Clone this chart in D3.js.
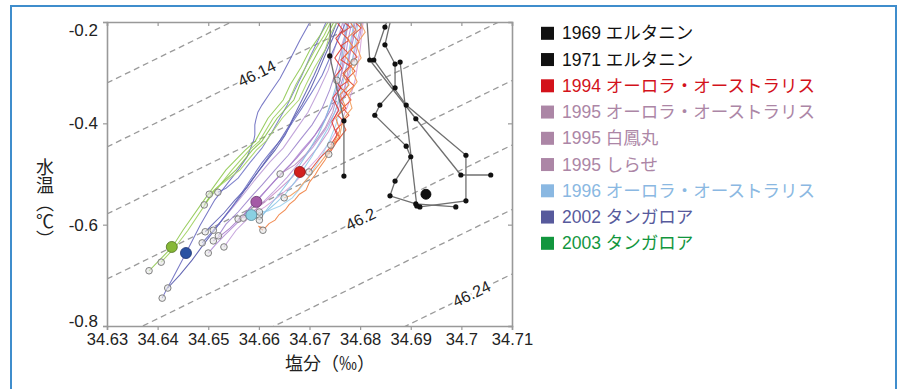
<!DOCTYPE html>
<html>
<head>
<meta charset="utf-8">
<script src="https://cdn.jsdelivr.net/npm/d3@7"></script>
<style>
  body { margin: 0; background: #fff; }
  svg { display: block; font-family: "Liberation Sans", Arial, "Noto Sans CJK JP", sans-serif; }
</style>
</head>
<body>
<svg id="chart" width="902" height="389"></svg>
<script>
// ---- data (salinity ‰, potential temperature ℃) ----
const xTicks = [34.63, 34.64, 34.65, 34.66, 34.67, 34.68, 34.69, 34.70, 34.71];
const xTickLabels = ['34.63', '34.64', '34.65', '34.66', '34.67', '34.68', '34.69', '34.7', '34.71'];
const yTicks = [-0.8, -0.6, -0.4, -0.2];
const yTickLabels = ['-0.8', '-0.6', '-0.4', '-0.2'];

// isopycnals: temperature at S=34.63 and at S=34.71
const isoLevels = [46.12, 46.14, 46.16, 46.18, 46.20, 46.22, 46.24];
const isoTempLeft = [-0.3204, -0.4467, -0.5790, -0.7073, -0.8346, -0.9620, -1.0893];
const isoTempRight = [0.0714, -0.0549, -0.1872, -0.3155, -0.4428, -0.5701, -0.6974];
const isoLabels = ['46.14', '46.2', '46.24'];
const isoLabelSalinity = [34.6596, 34.6801, 34.7020];

const legendNames = ['1969 エルタニン', '1971 エルタニン', '1994 オーロラ・オーストラリス',
  '1995 オーロラ・オーストラリス', '1995 白鳳丸', '1995 しらせ',
  '1996 オーロラ・オーストラリス', '2002 タンガロア', '2003 タンガロア'];

// bottle stations (Eltanin)
const eltanin1969 = [
  [[34.6742,-0.176],[34.6740,-0.267],[34.6768,-0.395],[34.6768,-0.504]],
  [[34.6812,-0.176],[34.6819,-0.275],[34.6910,-0.391],[34.6999,-0.502],[34.7058,-0.502]]
];
const eltanin1971 = [
  [[34.6861,-0.176],[34.6849,-0.210],[34.6827,-0.275],[34.6891,-0.364],[34.7009,-0.463],[34.7009,-0.553],[34.6918,-0.565]],
  [[34.6865,-0.176],[34.6849,-0.245],[34.6869,-0.283],[34.6869,-0.330],[34.6839,-0.364],[34.6829,-0.384],[34.6891,-0.445],[34.6900,-0.466],[34.6869,-0.514],[34.6859,-0.543],[34.6910,-0.559],[34.6989,-0.565]],
  [[34.6879,-0.279],[34.6912,-0.563]]
];

// CTD profiles
const aurora1994 = [
  [[34.6776,-0.176],[34.6768,-0.200],[34.6780,-0.210],[34.6764,-0.222],[34.6778,-0.236],[34.6762,-0.247],[34.6776,-0.261],[34.6762,-0.275],[34.6780,-0.287],[34.6766,-0.301],[34.6778,-0.315],[34.6760,-0.328],[34.6774,-0.342],[34.6760,-0.356],[34.6772,-0.370],[34.6756,-0.384],[34.6768,-0.397],[34.6752,-0.413],[34.6760,-0.429],[34.6740,-0.449],[34.6721,-0.468],[34.6699,-0.496]],
  [[34.6796,-0.176],[34.6790,-0.200],[34.6802,-0.212],[34.6786,-0.226],[34.6798,-0.240],[34.6782,-0.255],[34.6794,-0.269],[34.6778,-0.283],[34.6790,-0.297],[34.6774,-0.313],[34.6788,-0.326],[34.6772,-0.340],[34.6782,-0.354],[34.6766,-0.370],[34.6778,-0.384],[34.6764,-0.397],[34.6772,-0.413],[34.6756,-0.433],[34.6746,-0.449],[34.6738,-0.461]],
  [[34.6784,-0.176],[34.6780,-0.200],[34.6792,-0.216],[34.6774,-0.232],[34.6786,-0.249],[34.6770,-0.267],[34.6784,-0.285],[34.6766,-0.305],[34.6778,-0.324],[34.6760,-0.344],[34.6770,-0.364],[34.6752,-0.390],[34.6760,-0.413],[34.6746,-0.443],[34.6731,-0.472],[34.6718,-0.490],[34.6711,-0.502],[34.6700,-0.516],[34.6693,-0.532],[34.6680,-0.540],[34.6671,-0.551],[34.6660,-0.560],[34.6652,-0.571],[34.6640,-0.580],[34.6632,-0.591],[34.6620,-0.598],[34.6612,-0.607],[34.6599,-0.603],[34.6608,-0.611]],
  [[34.6804,-0.176],[34.6800,-0.200],[34.6810,-0.220],[34.6792,-0.245],[34.6802,-0.271],[34.6784,-0.295],[34.6794,-0.318],[34.6776,-0.344],[34.6784,-0.370],[34.6766,-0.393],[34.6760,-0.423],[34.6740,-0.453],[34.6721,-0.478],[34.6710,-0.492],[34.6697,-0.508],[34.6686,-0.520],[34.6677,-0.532],[34.6662,-0.543],[34.6650,-0.547]],
  [[34.6760,-0.176],[34.6754,-0.200],[34.6766,-0.216],[34.6752,-0.232],[34.6764,-0.251],[34.6750,-0.271],[34.6764,-0.291],[34.6748,-0.311],[34.6762,-0.330],[34.6746,-0.350],[34.6758,-0.374],[34.6744,-0.397],[34.6754,-0.423],[34.6742,-0.443]]
];
const aurora1995 = [
  [[34.6790,-0.176],[34.6784,-0.200],[34.6776,-0.236],[34.6770,-0.275],[34.6760,-0.315],[34.6746,-0.354],[34.6731,-0.390],[34.6711,-0.423],[34.6685,-0.453],[34.6662,-0.482],[34.6632,-0.512],[34.6606,-0.542],[34.6583,-0.567],[34.6559,-0.595],[34.6533,-0.620],[34.6514,-0.640],[34.6500,-0.656]],
  [[34.6800,-0.176],[34.6794,-0.200],[34.6784,-0.245],[34.6774,-0.285],[34.6760,-0.330],[34.6744,-0.370],[34.6725,-0.403],[34.6701,-0.437],[34.6675,-0.468],[34.6648,-0.496],[34.6618,-0.528],[34.6593,-0.555],[34.6569,-0.581],[34.6543,-0.607],[34.6524,-0.622],[34.6510,-0.632]],
  [[34.6808,-0.176],[34.6804,-0.200],[34.6792,-0.245],[34.6780,-0.295],[34.6766,-0.338],[34.6750,-0.378],[34.6731,-0.413],[34.6707,-0.447],[34.6681,-0.476],[34.6656,-0.506],[34.6628,-0.536],[34.6603,-0.561],[34.6579,-0.587],[34.6555,-0.611],[34.6531,-0.644]],
  [[34.6784,-0.176],[34.6778,-0.200],[34.6766,-0.245],[34.6754,-0.291],[34.6740,-0.334],[34.6725,-0.370],[34.6705,-0.403],[34.6681,-0.433],[34.6658,-0.463],[34.6632,-0.492],[34.6606,-0.522],[34.6583,-0.547],[34.6559,-0.575],[34.6535,-0.599],[34.6520,-0.622]]
];
const hakuho1995 = [
  [[34.6796,-0.176],[34.6790,-0.200],[34.6782,-0.245],[34.6776,-0.295],[34.6768,-0.344],[34.6752,-0.384],[34.6737,-0.417],[34.6715,-0.449],[34.6691,-0.478],[34.6666,-0.506],[34.6638,-0.532],[34.6612,-0.555],[34.6587,-0.575],[34.6559,-0.589]],
  [[34.6812,-0.176],[34.6806,-0.200],[34.6800,-0.255],[34.6790,-0.315],[34.6776,-0.364],[34.6760,-0.403],[34.6740,-0.437],[34.6717,-0.468],[34.6691,-0.496],[34.6666,-0.522],[34.6638,-0.545],[34.6612,-0.565],[34.6589,-0.579],[34.6569,-0.587]],
  [[34.6780,-0.176],[34.6776,-0.200],[34.6770,-0.245],[34.6764,-0.295],[34.6756,-0.338],[34.6746,-0.378],[34.6731,-0.409],[34.6711,-0.437],[34.6691,-0.463],[34.6671,-0.482],[34.6642,-0.500]],
  [[34.6772,-0.176],[34.6766,-0.200],[34.6752,-0.245],[34.6737,-0.295],[34.6717,-0.338],[34.6697,-0.378],[34.6673,-0.413],[34.6648,-0.449],[34.6622,-0.476],[34.6595,-0.508],[34.6573,-0.536],[34.6551,-0.563],[34.6527,-0.591],[34.6510,-0.611]]
];
const shirase1995 = [
  [[34.6770,-0.176],[34.6766,-0.200],[34.6770,-0.226],[34.6762,-0.251],[34.6766,-0.275],[34.6758,-0.295],[34.6754,-0.315]],
  [[34.6810,-0.176],[34.6804,-0.200],[34.6800,-0.226],[34.6794,-0.251],[34.6788,-0.279]]
];
const aurora1996 = [
  [[34.6792,-0.176],[34.6788,-0.200],[34.6780,-0.245],[34.6772,-0.295],[34.6762,-0.338],[34.6750,-0.378],[34.6737,-0.409],[34.6721,-0.437],[34.6705,-0.465],[34.6687,-0.492],[34.6671,-0.516],[34.6652,-0.540],[34.6634,-0.557],[34.6618,-0.571],[34.6601,-0.583]],
  [[34.6800,-0.176],[34.6796,-0.200],[34.6788,-0.255],[34.6778,-0.315],[34.6764,-0.364],[34.6752,-0.403],[34.6740,-0.433],[34.6725,-0.463],[34.6707,-0.492],[34.6685,-0.524],[34.6666,-0.547],[34.6642,-0.563],[34.6618,-0.573],[34.6601,-0.575]],
  [[34.6778,-0.176],[34.6774,-0.200],[34.6766,-0.255],[34.6756,-0.315],[34.6744,-0.354],[34.6731,-0.393],[34.6717,-0.423],[34.6697,-0.457],[34.6677,-0.488],[34.6658,-0.516],[34.6638,-0.542],[34.6618,-0.567],[34.6601,-0.591]]
];
const tangaroa2002 = [
  [[34.6709,-0.176],[34.6701,-0.200],[34.6681,-0.236],[34.6661,-0.275],[34.6642,-0.311],[34.6622,-0.340],[34.6606,-0.364],[34.6598,-0.378],[34.6594,-0.393],[34.6592,-0.403],[34.6592,-0.423],[34.6590,-0.433],[34.6582,-0.453],[34.6577,-0.466],[34.6559,-0.492],[34.6543,-0.512],[34.6513,-0.551],[34.6484,-0.601],[34.6454,-0.660],[34.6428,-0.709],[34.6417,-0.729],[34.6409,-0.745]],
  [[34.6770,-0.176],[34.6760,-0.200],[34.6746,-0.232],[34.6731,-0.265],[34.6717,-0.299],[34.6701,-0.334],[34.6685,-0.364],[34.6667,-0.393],[34.6652,-0.423],[34.6632,-0.453],[34.6612,-0.478],[34.6586,-0.512],[34.6563,-0.545],[34.6539,-0.575],[34.6513,-0.610],[34.6490,-0.640],[34.6468,-0.670],[34.6444,-0.699],[34.6420,-0.725]],
  [[34.6780,-0.176],[34.6772,-0.200],[34.6756,-0.236],[34.6740,-0.271],[34.6725,-0.305],[34.6705,-0.338],[34.6685,-0.370],[34.6667,-0.397],[34.6648,-0.427],[34.6626,-0.453],[34.6606,-0.478],[34.6583,-0.512],[34.6563,-0.542],[34.6543,-0.571],[34.6524,-0.595],[34.6504,-0.618],[34.6488,-0.636]],
  [[34.6766,-0.176],[34.6754,-0.200],[34.6740,-0.236],[34.6725,-0.269],[34.6709,-0.305],[34.6693,-0.338],[34.6675,-0.374],[34.6661,-0.403],[34.6642,-0.433],[34.6622,-0.462],[34.6598,-0.496],[34.6577,-0.526],[34.6553,-0.551],[34.6531,-0.577],[34.6507,-0.601],[34.6494,-0.614]],
  [[34.6740,-0.176],[34.6733,-0.200],[34.6717,-0.236],[34.6701,-0.269],[34.6685,-0.305],[34.6671,-0.334],[34.6656,-0.364],[34.6642,-0.389],[34.6626,-0.417],[34.6606,-0.449],[34.6582,-0.478],[34.6559,-0.508],[34.6535,-0.528],[34.6519,-0.536]]
];
const tangaroa2003 = [
  [[34.6744,-0.176],[34.6737,-0.200],[34.6721,-0.226],[34.6701,-0.255],[34.6683,-0.290],[34.6662,-0.324],[34.6648,-0.354],[34.6618,-0.390],[34.6593,-0.435],[34.6573,-0.453],[34.6535,-0.492],[34.6492,-0.551],[34.6450,-0.611],[34.6429,-0.644],[34.6383,-0.691]],
  [[34.6748,-0.176],[34.6742,-0.200],[34.6729,-0.226],[34.6711,-0.255],[34.6692,-0.290],[34.6673,-0.324],[34.6660,-0.354],[34.6628,-0.390],[34.6601,-0.435],[34.6581,-0.453],[34.6547,-0.492],[34.6500,-0.551],[34.6460,-0.611],[34.6435,-0.644],[34.6407,-0.674]],
  [[34.6752,-0.176],[34.6748,-0.200],[34.6735,-0.226],[34.6719,-0.255],[34.6700,-0.290],[34.6681,-0.324],[34.6669,-0.354],[34.6636,-0.390],[34.6606,-0.435],[34.6587,-0.453],[34.6555,-0.492],[34.6512,-0.532],[34.6492,-0.561]],
  [[34.6756,-0.176],[34.6754,-0.200],[34.6740,-0.226],[34.6731,-0.255],[34.6710,-0.290],[34.6693,-0.324],[34.6679,-0.354],[34.6646,-0.390],[34.6614,-0.435],[34.6595,-0.453],[34.6563,-0.492],[34.6524,-0.522],[34.6502,-0.540]]
];

// mean bottom-water points
const meanSalinity = [34.6930, 34.6681, 34.6595, 34.6585, 34.6456, 34.6428];
const meanTemp = [-0.540, -0.496, -0.555, -0.581, -0.656, -0.644];

// ---- drawing ----
const svg = d3.select('#chart');
const plot = { left: 107, right: 512, top: 22, bottom: 326 };

const x = d3.scaleLinear().domain([34.63, 34.71]).range([plot.left, plot.right]);
const y = d3.scaleLinear().domain([-0.8, -0.2]).range([plot.bottom, plot.top]);

svg.append('rect')
  .attr('x', 11).attr('y', 6).attr('width', 885).attr('height', 420)
  .attr('fill', 'none').attr('stroke', '#3f8dcc').attr('stroke-width', 2);

svg.append('defs').append('clipPath').attr('id', 'clip')
  .append('rect')
  .attr('x', plot.left).attr('y', plot.top)
  .attr('width', plot.right - plot.left).attr('height', plot.bottom - plot.top);

const g = svg.append('g').attr('clip-path', 'url(#clip)');

// isopycnals
g.selectAll('.iso')
  .data(isoLevels)
  .enter().append('line')
  .attr('class', 'iso')
  .attr('x1', x(34.63)).attr('y1', (d, i) => y(isoTempLeft[i]))
  .attr('x2', x(34.71)).attr('y2', (d, i) => y(isoTempRight[i]))
  .attr('stroke', '#9a9a9a')
  .attr('stroke-width', 1.3)
  .attr('stroke-dasharray', '6,4');

const line = d3.line().x(d => x(d[0])).y(d => y(d[1]));

const ctdSets = [
  { data: aurora1995, colors: ['#b18ad6', '#a67cc8', '#c09ad8', '#9c84cc'] },
  { data: hakuho1995, colors: ['#c98fc9', '#d6a0d8', '#b58ec0', '#bb9ad6'] },
  { data: shirase1995, colors: ['#c79ad4', '#b88ccc'] },
  { data: aurora1996, colors: ['#8cc6e8', '#9ed2ee', '#84bfe2'] },
  { data: tangaroa2002, colors: ['#6a6cc0', '#5458ac', '#6b70c4', '#5f62b4', '#7378c8'] },
  { data: tangaroa2003, colors: ['#8fc850', '#9ccf5c', '#86c048', '#a6d466'] },
  { data: aurora1994, colors: ['#e4402c', '#e6502e', '#f08040', '#f29a58', '#e0342a'] }
];

ctdSets.forEach(set => {
  g.selectAll(null)
    .data(set.data)
    .enter().append('path')
    .attr('d', line)
    .attr('fill', 'none')
    .attr('stroke', (d, i) => set.colors[i % set.colors.length])
    .attr('stroke-width', 1.05)
    .attr('stroke-opacity', 0.9);
});

// profile bottom points
const ends = [];
ctdSets.forEach(set => set.data.forEach(p => ends.push(p[p.length - 1])));
g.selectAll('.end')
  .data(ends)
  .enter().append('circle')
  .attr('class', 'end')
  .attr('cx', d => x(d[0])).attr('cy', d => y(d[1]))
  .attr('r', 3.3)
  .attr('fill', '#e4e4e4').attr('fill-opacity', 0.6)
  .attr('stroke', '#808080').attr('stroke-width', 1);

// bottle stations
const bottles = eltanin1969.concat(eltanin1971);
g.selectAll('.stn')
  .data(bottles)
  .enter().append('path')
  .attr('class', 'stn')
  .attr('d', line)
  .attr('fill', 'none')
  .attr('stroke', '#707070')
  .attr('stroke-width', 1.3);

g.selectAll('.bottle')
  .data(bottles.flat())
  .enter().append('circle')
  .attr('class', 'bottle')
  .attr('cx', d => x(d[0])).attr('cy', d => y(d[1]))
  .attr('r', 2.6)
  .attr('fill', '#111');

// mean points
const meanFill = ['#111', '#d2201e', '#a45aa6', '#8ad0e2', '#2a52a2', '#86b836'];
const meanStroke = ['#000', '#8a1010', '#6a3a70', '#5a8a9a', '#1a3070', '#4f7020'];
g.selectAll('.mean')
  .data(meanSalinity)
  .enter().append('circle')
  .attr('class', 'mean')
  .attr('cx', d => x(d)).attr('cy', (d, i) => y(meanTemp[i]))
  .attr('r', (d, i) => i === 0 ? 5 : 5.5)
  .attr('fill', (d, i) => meanFill[i])
  .attr('stroke', (d, i) => meanStroke[i]).attr('stroke-width', 0.8);

// isopycnal labels
const isoAngle = Math.atan2(y(isoTempRight[0]) - y(isoTempLeft[0]), x(34.71) - x(34.63)) * 180 / Math.PI;
const isoIndex = l => isoLevels.indexOf(+l);
svg.selectAll('.isolabel')
  .data(isoLabels)
  .enter().append('text')
  .attr('class', 'isolabel')
  .attr('transform', (d, i) => {
    const k = isoIndex(d);
    const t = isoTempLeft[k] + (isoTempRight[k] - isoTempLeft[k]) * (isoLabelSalinity[i] - 34.63) / 0.08;
    return `translate(${x(isoLabelSalinity[i])},${y(t)}) rotate(${isoAngle})`;
  })
  .attr('text-anchor', 'middle')
  .attr('dominant-baseline', 'central')
  .attr('font-size', 16)
  .attr('fill', '#222')
  .attr('stroke', '#fff').attr('stroke-width', 5).attr('paint-order', 'stroke')
  .text(d => d);

// axes
const axisColor = '#999';
const xAxis = svg.append('g')
  .attr('transform', `translate(0,${plot.bottom})`)
  .call(d3.axisBottom(x).tickValues(xTicks).tickFormat((d, i) => xTickLabels[i]).tickSize(4).tickPadding(3));
const xTop = svg.append('g')
  .attr('transform', `translate(0,${plot.top})`)
  .call(d3.axisTop(x).tickValues(xTicks).tickFormat('').tickSize(-4));
const yAxis = svg.append('g')
  .attr('transform', `translate(${plot.left},0)`)
  .call(d3.axisLeft(y).tickValues(yTicks).tickFormat((d, i) => yTickLabels[i]).tickSize(4).tickPadding(5));
const yRight = svg.append('g')
  .attr('transform', `translate(${plot.right},0)`)
  .call(d3.axisRight(y).tickValues(yTicks).tickFormat('').tickSize(-4));

[xAxis, xTop, yAxis, yRight].forEach(a => {
  a.select('.domain').attr('stroke', axisColor).attr('stroke-width', 1.6);
  a.selectAll('.tick line').attr('stroke', axisColor).attr('stroke-width', 1.2);
  a.selectAll('text').attr('fill', '#222').attr('font-family', '"Liberation Sans", Arial, sans-serif');
});
xAxis.selectAll('text').attr('font-size', 16.5);
yAxis.selectAll('text').attr('font-size', 17)
  .attr('dy', (d) => d === -0.2 ? '0.8em' : d === -0.8 ? '0' : '0.32em');

// axis titles
svg.append('text')
  .attr('x', 330).attr('y', 370)
  .attr('text-anchor', 'middle')
  .attr('font-family', '"Noto Sans CJK JP", sans-serif')
  .attr('font-size', 18)
  .attr('fill', '#222')
  .text('塩分（‰）');

svg.append('text')
  .attr('x', 45).attr('y', 158)
  .attr('writing-mode', 'vertical-rl')
  .attr('font-family', '"Noto Sans CJK JP", sans-serif')
  .attr('font-size', 18)
  .attr('fill', '#222')
  .text('水温（℃）');

// legend
const legendColors = ['#111', '#111', '#d3121b', '#ac86a6', '#ac86a6', '#ac86a6', '#8ab8e2', '#575a9c', '#12963e'];
const legend = svg.append('g');
const rows = legend.selectAll('g')
  .data(legendNames)
  .enter().append('g')
  .attr('transform', (d, i) => `translate(541,${33.3 + i * 26.25})`);
rows.append('rect')
  .attr('x', 0).attr('y', -6.5).attr('width', 13).attr('height', 13)
  .attr('fill', (d, i) => legendColors[i]);
rows.append('text')
  .attr('x', 21).attr('y', 0)
  .attr('dominant-baseline', 'central')
  .attr('font-family', '"Liberation Sans", "Noto Sans CJK JP", sans-serif')
  .attr('font-size', 17.5)
  .attr('fill', (d, i) => legendColors[i])
  .text(d => d);
</script>
</body>
</html>
